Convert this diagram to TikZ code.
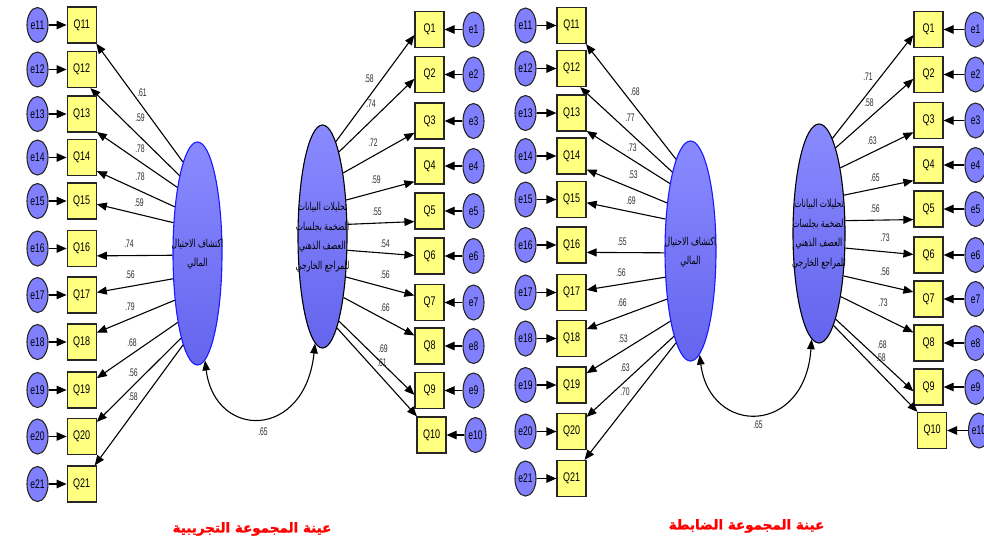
\documentclass[tikz,border=0pt]{standalone}
\usepackage{fontspec}
\setmainfont{Liberation Sans}
\newfontfamily\narrowfont[FakeStretch=0.72]{Liberation Sans}
\newfontfamily\errfont[FakeStretch=0.68]{Liberation Sans}
\newfontfamily\coeffont[FakeStretch=0.62]{Liberation Sans}
\newfontfamily\arabicfont[Script=Arabic,FakeStretch=0.7]{DejaVu Sans}
\newfontfamily\titlefont[Script=Arabic,FakeBold=1.5]{DejaVu Sans}
\TeXXeTstate=1
\usetikzlibrary{arrows.meta,shapes.geometric}
\definecolor{qfill}{HTML}{FFFF80}
\definecolor{efill}{HTML}{8080FF}
\definecolor{latTop}{HTML}{8A8AFF}
\definecolor{latBot}{HTML}{6464EE}
\definecolor{latBlue}{HTML}{1A1AFF}
\definecolor{coefc}{HTML}{2A2A2A}
\definecolor{titlered}{HTML}{FF0000}
\newcommand{\zw}[1]{\makebox[0pt][c]{#1}}
\begin{document}
\begin{tikzpicture}[x=1pt,y=-1pt,
  obsbox/.style={rectangle, draw=black!85, line width=1.2pt, fill=qfill,
    minimum width=29pt, minimum height=36pt, inner sep=0pt,
    font=\narrowfont\fontsize{12.5}{13}\selectfont},
  errnode/.style={ellipse, draw=black!85, line width=1.1pt, fill=efill,
    minimum width=21pt, minimum height=35pt, inner sep=0pt,
    font=\errfont\fontsize{12.5}{14}\selectfont},
  latshape/.style={ellipse, minimum width=49pt, minimum height=223pt, inner sep=0pt,
    top color=latTop, bottom color=latBot, line width=1.1pt},
  lattext/.style={align=center, inner sep=0pt,
    font=\arabicfont\fontsize{11}{19.5}\selectfont},
  coef/.style={font=\coeffont\fontsize{11}{11}\selectfont, text=coefc, inner sep=0pt},
  regpath/.style={-{Triangle[length=10pt,width=8pt]}, line width=1.1pt, black},
  errpath/.style={-{Triangle[length=10pt,width=8.5pt]}, line width=1.2pt, black},
  covpath/.style={{Triangle[length=10pt,width=7.5pt]}-{Triangle[length=10pt,width=7.5pt]}, line width=1.1pt, black},
  titlestyle/.style={font=\titlefont\bfseries\fontsize{13.5}{15}\selectfont, text=titlered, inner sep=0pt}
]
\fill[white] (0,0) rectangle (984,541);
\useasboundingbox (0,0) rectangle (984,541);

% latent variables
\node[latshape, draw=latBlue] (aL) at (197.5,253.5) {};
\node[latshape, draw=black] (aR) at (322.5,236.5) {};
\node[latshape, draw=latBlue, minimum width=51pt, minimum height=220pt] (bL) at (690.5,251) {};
\node[latshape, draw=black, minimum width=52pt, minimum height=219pt] (bR) at (819,233.5) {};

\node[lattext] (aLt) at (197.5,254) {\beginR اكتشاف الاحتيال\endR\\\beginR المالي\endR};
\node[lattext] (aRt) at (322.5,237) {\beginR تحليلات البيانات\endR\\\beginR الضخمة بجلسات\endR\\\beginR العصف الذهني\endR\\\beginR للمراجع الخارجي\endR};
\node[lattext] (bLt) at (690.5,252) {\beginR اكتشاف الاحتيال\endR\\\beginR المالي\endR};
\node[lattext] (bRt) at (819,234) {\beginR تحليلات البيانات\endR\\\beginR الضخمة بجلسات\endR\\\beginR العصف الذهني\endR\\\beginR للمراجع الخارجي\endR};

% left groups Q11..Q21
\foreach \n/\ya/\yb/\sa/\ta in {11/25/25.5/99.5/-52, 12/69.5/68.5/103/-65, 13/114/113/107.5/-50,
  14/157.5/156/116/-42, 15/201/199.5/128.5/-12, 16/248.5/245/184/-26, 17/295/292.5/226/10,
  18/342/338.5/244/32, 19/390/385/254.5/38, 20/436.5/431.5/259/44, 21/484/478.5/261.5/55}{
  \node[obsbox] (aQ\n) at (81.7,\ya) {Q\n};
  \node[errnode] (ae\n) at (37.5,\ya) {\zw{e\n}};
  \draw[errpath] (ae\n) -- (aQ\n);
  \draw[regpath] (aL.\sa) -- (aQ\n.\ta);
  \node[obsbox] (bQ\n) at (571.5,\yb) {Q\n};
  \node[errnode] (be\n) at (525.5,\yb) {\zw{e\n}};
  \draw[errpath] (be\n) -- (bQ\n);
  \draw[regpath] (bL.\sa) -- (bQ\n.\ta);
}

% right groups Q1..Q10
\foreach \n/\ya/\yb/\sa/\ta/\da/\db in {1/29.5/29.5/82/200/0/0, 2/74.5/74.5/79/196/0/0,
  3/121/120.5/72/218/0/0, 4/166/165/57/226/0/0, 5/211/209/26.5/215/0/0, 6/256/255/-29/178/0/0,
  7/302.5/299/-60/155/0/0, 8/346/343/-71/145/0/0, 9/390.5/387/-79.5/196/0/0, 10/435/430.5/-81/128/2/3.5}{
  \node[obsbox] (aQ\n) at ({429.5+\da},\ya) {Q\n};
  \node[errnode] (ae\n) at ({473.5+\da},\ya) {\zw{e\n}};
  \draw[errpath] (ae\n) -- (aQ\n);
  \draw[regpath] (aR.\sa) -- (aQ\n.\ta);
  \node[obsbox] (bQ\n) at ({928.5+\db},\yb) {Q\n};
  \node[errnode] (be\n) at ({975.5+\db},\yb) {\zw{e\n}};
  \draw[errpath] (be\n) -- (bQ\n);
  \draw[regpath] (bR.\sa) -- (bQ\n.\ta);
}

% covariances
\draw[covpath] (aL.274) .. controls (215,440) and (305,440) .. (aR.266);
\draw[covpath] (bL.275) .. controls (710,436) and (805,436) .. (bR.266);
\node[coef] (acov) at (263,432) {.65};
\node[coef] (bcov) at (758,425) {.65};

% coefficients, experimental group
\node[coef] (ac11) at (142,93) {.61};
\node[coef] (ac12) at (140,118) {.59};
\node[coef] (ac13) at (140,149) {.78};
\node[coef] (ac14) at (140,177) {.78};
\node[coef] (ac15) at (139,203) {.59};
\node[coef] (ac16) at (129,244) {.74};
\node[coef] (ac17) at (130,275) {.56};
\node[coef] (ac18) at (130,307) {.79};
\node[coef] (ac19) at (132,343) {.68};
\node[coef] (ac20) at (133,373) {.56};
\node[coef] (ac21) at (133,397) {.58};
\node[coef] (ac1) at (369,79) {.58};
\node[coef] (ac2) at (371,104) {.74};
\node[coef] (ac3) at (373,143) {.72};
\node[coef] (ac4) at (376,180) {.59};
\node[coef] (ac5) at (377,212) {.55};
\node[coef] (ac6) at (385,244) {.54};
\node[coef] (ac7) at (385,275) {.56};
\node[coef] (ac8) at (385,308) {.66};
\node[coef] (ac9) at (383,349) {.69};
\node[coef] (ac10) at (382,363) {.61};

% coefficients, control group
\node[coef] (bc11) at (635,92) {.68};
\node[coef] (bc12) at (630,118) {.77};
\node[coef] (bc13) at (632,148) {.73};
\node[coef] (bc14) at (633,175) {.53};
\node[coef] (bc15) at (631,201) {.69};
\node[coef] (bc16) at (622,242) {.55};
\node[coef] (bc17) at (621,273) {.56};
\node[coef] (bc18) at (622,303) {.66};
\node[coef] (bc19) at (623,339) {.53};
\node[coef] (bc20) at (625,368) {.63};
\node[coef] (bc21) at (625,392) {.70};
\node[coef] (bc1) at (868,77) {.71};
\node[coef] (bc2) at (869,103) {.58};
\node[coef] (bc3) at (872,141) {.63};
\node[coef] (bc4) at (875,178) {.65};
\node[coef] (bc5) at (875,209) {.56};
\node[coef] (bc6) at (885,238) {.73};
\node[coef] (bc7) at (885,272) {.56};
\node[coef] (bc8) at (883,303) {.73};
\node[coef] (bc9) at (882,345) {.68};
\node[coef] (bc10) at (881,358) {.58};

% titles
\node[titlestyle] (aTitle) at (252,529) {\beginR عينة المجموعة التجريبية\endR};
\node[titlestyle] (bTitle) at (746.5,526) {\beginR عينة المجموعة الضابطة\endR};
\end{tikzpicture}
\end{document}
